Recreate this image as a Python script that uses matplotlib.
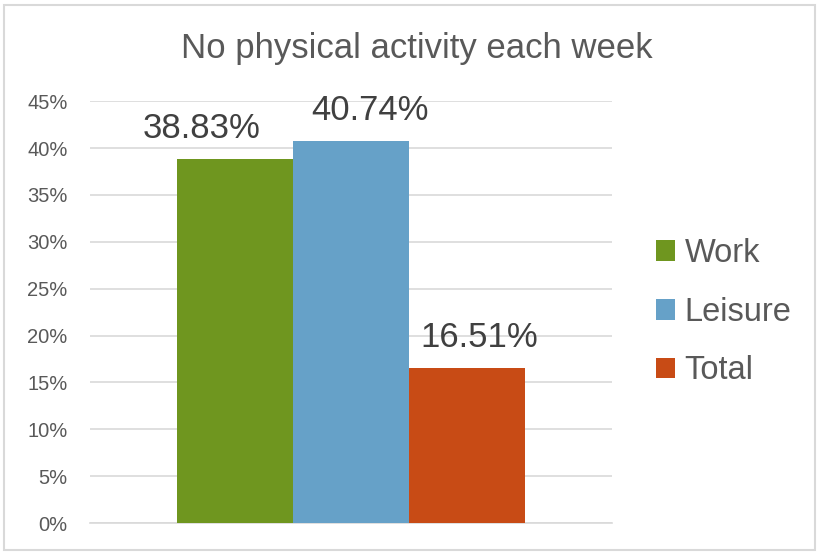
import matplotlib.pyplot as plt
from matplotlib.patches import Rectangle

plt.rcParams["font.family"] = ["Liberation Sans", "DejaVu Sans"]

# Data
series = ["Work", "Leisure", "Total"]
values = [38.83, 40.74, 16.51]
colors = ["#6f961f", "#66a1c8", "#c84b15"]
yticks = [0, 5, 10, 15, 20, 25, 30, 35, 40, 45]

# label nudges (points), as placed in the original chart
label_dx = [-24, 14, 9]

fig = plt.figure(figsize=(8.17, 5.53), dpi=100)
ax = fig.add_axes([0.110, 0.054, 0.639, 0.763])

width = 0.2222
offsets = [-width, 0, width]
for name, val, col, off, dx in zip(series, values, colors, offsets, label_dx):
    ax.bar(off, val, width=width, color=col, label=name, zorder=3)
    ax.annotate(f"{val:.2f}%", xy=(off, val), xytext=(dx, 15), textcoords="offset points",
                ha="center", va="baseline", fontsize=25, color="#404040", zorder=4)

ax.set_xlim(-0.5, 0.5)
ax.set_ylim(0, 45)
ax.set_yticks(yticks)
ax.set_yticklabels([f"{t}%" for t in yticks], fontsize=14.5, color="#595959")
ax.set_xticks([])
ax.tick_params(axis="y", length=0, pad=16)
ax.grid(axis="y", color="#d9d9d9", linewidth=1.2, zorder=0)
for s in ["top", "right", "left"]:
    ax.spines[s].set_visible(False)
ax.spines["bottom"].set_color("#d9d9d9")
ax.spines["bottom"].set_linewidth(1.2)

fig.text(0.5098, 0.8951, "No physical activity each week", ha="center", va="baseline",
         fontsize=25, color="#595959")

ax.legend(loc="center left", bbox_to_anchor=(1.084, 0.5), frameon=False,
          borderaxespad=0, borderpad=0,
          fontsize=23.5, labelcolor="#595959", handlelength=0.6, handleheight=0.6,
          handletextpad=0.28, labelspacing=0.85)

fig.patches.append(Rectangle((0.005, 0.006), 0.992, 0.985, transform=fig.transFigure,
                             fill=False, edgecolor="#d9d9d9", linewidth=1.5))

plt.savefig("out.png", dpi=100)
